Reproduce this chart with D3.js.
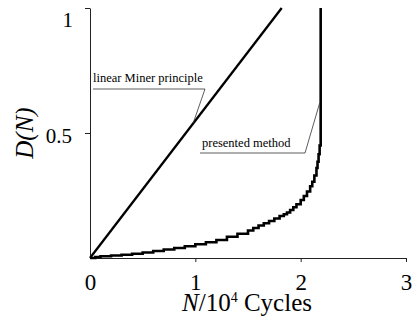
<!DOCTYPE html>
<html><head><meta charset="utf-8">
<script src="https://cdn.jsdelivr.net/npm/d3@7/dist/d3.min.js"></script>
<style>body{margin:0;background:#fff;}svg{display:block;}</style></head>
<body><svg id="c" width="415" height="318"></svg>
<script>
// Data
const xTicks = [0, 1, 2, 3];
const yTicks = [0.5, 1];
const minerN = [0, 1.82];
const minerD = [0, 1];
const presentedN = [0, 0.05, 0.1, 0.2, 0.3, 0.4, 0.5, 0.6, 0.7, 0.8, 0.9, 1.0, 1.1, 1.2, 1.3, 1.4, 1.5, 1.55, 1.6, 1.65, 1.7, 1.75, 1.8, 1.84, 1.87, 1.9, 1.93, 1.96, 2.0, 2.03, 2.06, 2.09, 2.11, 2.13, 2.15, 2.16, 2.17, 2.18, 2.19, 2.19];
const presentedD = [0, 0.004, 0.007, 0.010, 0.013, 0.017, 0.022, 0.028, 0.034, 0.040, 0.047, 0.055, 0.063, 0.072, 0.085, 0.097, 0.11, 0.12, 0.13, 0.139, 0.148, 0.158, 0.168, 0.175, 0.182, 0.192, 0.203, 0.215, 0.232, 0.248, 0.266, 0.287, 0.305, 0.33, 0.36, 0.385, 0.415, 0.45, 0.48, 1.0];
const labels = ["linear Miner principle", "presented method"];

const FONT = "Liberation Serif";
const svg = d3.select("#c");
const x = d3.scaleLinear().domain([0, 3]).range([90, 406]);
const y = d3.scaleLinear().domain([0, 1]).range([258, 8]);

// axes
const xa = svg.append("g").attr("transform", `translate(0,${y(0)})`)
  .call(d3.axisBottom(x).tickValues(xTicks).tickSize(4).tickSizeOuter(0).tickFormat(d3.format("d")));
const ya = svg.append("g").attr("transform", `translate(${x(0)},0)`)
  .call(d3.axisLeft(y).tickValues(yTicks).tickSize(5).tickSizeOuter(0).tickPadding(13).tickFormat(d => d === 1 ? "1" : d));
[xa, ya].forEach(g => {
  g.attr("font-family", FONT);
  g.selectAll("path,line").attr("stroke", "#222").attr("stroke-width", 1);
  g.selectAll("text").attr("font-family", FONT).attr("fill", "#000");
});
xa.selectAll("text").attr("font-size", 23).attr("y", 32).attr("dy", null);
ya.selectAll("text").attr("font-size", 21);
ya.selectAll(".tick").filter(d => d === 0.5).select("text").attr("dy", "0.45em");
ya.selectAll(".tick").filter(d => d === 1).select("text").attr("dy", "0.9em").attr("x", -17);
xa.selectAll(".tick").filter(d => d === 0).select("line").remove();

// lines
const lineGen = d3.line().x(d => x(d[0])).y(d => y(d[1]));
svg.append("path").datum(minerN.map((n, i) => [n, minerD[i]]))
  .attr("d", lineGen).attr("fill", "none").attr("stroke", "#000").attr("stroke-width", 2.3);
svg.append("path").datum(presentedN.map((n, i) => [n, presentedD[i]]))
  .attr("d", lineGen.curve(d3.curveStepAfter)).attr("fill", "none").attr("stroke", "#000")
  .attr("stroke-width", 2.6).attr("stroke-linejoin", "miter");

// annotations
svg.append("text").attr("x", 93).attr("y", 82).attr("font-family", FONT).attr("font-size", 12.5).text(labels[0]);
svg.append("path").attr("d", `M93,89H205L${x(0.98)},${y(0.54)}`)
  .attr("fill", "none").attr("stroke", "#333").attr("stroke-width", 0.8);
svg.append("text").attr("x", 202).attr("y", 147).attr("font-family", FONT).attr("font-size", 12.5).text(labels[1]);
svg.append("path").attr("d", `M200,153H305L${x(2.19) - 1},${y(0.62)}`)
  .attr("fill", "none").attr("stroke", "#333").attr("stroke-width", 0.8);

// axis titles
const xt = svg.append("text").attr("x", 247).attr("y", 311).attr("text-anchor", "middle")
  .attr("font-family", FONT).attr("font-size", 25);
xt.append("tspan").attr("font-style", "italic").text("N");
xt.append("tspan").text("/10");
xt.append("tspan").attr("font-size", 14).attr("dy", -9).text("4");
xt.append("tspan").attr("dy", 9).text(" Cycles");

svg.append("text").attr("transform", "translate(33,133) rotate(-90)").attr("text-anchor", "middle")
  .attr("font-family", FONT).attr("font-size", 25).attr("font-style", "italic").text("D(N)");
</script></body></html>
